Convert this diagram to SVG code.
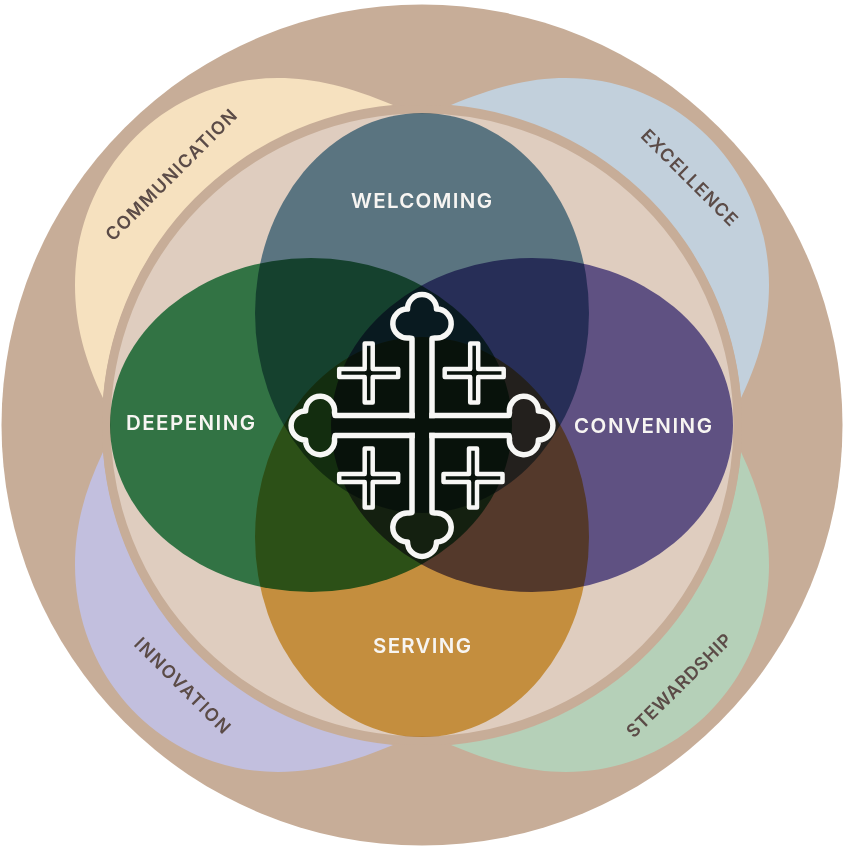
<svg xmlns="http://www.w3.org/2000/svg" xmlns:xlink="http://www.w3.org/1999/xlink" width="843" height="846" viewBox="0 0 843 846">
<style>
.lobe{mix-blend-mode:multiply}
.t{font-family:"Inter","Liberation Sans",sans-serif;text-anchor:middle}
.w{fill:#f7f5f2;font-size:20.500px;font-weight:600}
.d{fill:#5b4b47;font-size:18px;font-weight:600}
.x{fill:none;stroke:#f7f7f5;stroke-linejoin:round}
</style>
<defs>
<path id="arm" d="M-10,-10V-87L-13,-87.500A14.500,14.500 0 1 1 -14.500,-116.400A14.500,14.500 0 1 1 14.500,-116.400A14.500,14.500 0 1 1 13,-87.500L10,-87V-10"/>
<path id="small" d="M-4,-29.500H4V-4H29.500V4H4V29.500H-4V4H-29.500V-4H-4Z"/>
<path id="crescent" d="M-29,-320C-72,-338 -107,-347 -144,-347C-257,-347 -347,-255 -347,-140C-347,-100 -337,-65 -319,-27A320,320 0 0 1 -29,-320Z"/>
</defs>
<rect width="843" height="846" fill="#fff"/>
<circle id="outer" cx="422" cy="425" r="420.500" fill="#c7ad98"/>
<g id="communication">
<use xlink:href="#crescent" transform="translate(422 425)" fill="#f6e1bf"/>
<text class="t d" transform="translate(175.700 179.400) rotate(-45)" textLength="177" lengthAdjust="spacing">COMMUNICATION</text>
</g>
<g id="excellence">
<use xlink:href="#crescent" transform="translate(422 425) scale(-1 1)" fill="#c2d0dc"/>
<text class="t d" transform="translate(685 182) rotate(45)" textLength="128" lengthAdjust="spacing">EXCELLENCE</text>
</g>
<g id="innovation">
<use xlink:href="#crescent" transform="translate(422 425) scale(1 -1)" fill="#c2bfde"/>
<text class="t d" transform="translate(178 690) rotate(45)" textLength="127" lengthAdjust="spacing">INNOVATION</text>
</g>
<g id="stewardship">
<use xlink:href="#crescent" transform="translate(422 425) scale(-1 -1)" fill="#b5d0b8"/>
<text class="t d" transform="translate(683.400 690) rotate(-44.500)" textLength="139" lengthAdjust="spacing">STEWARDSHIP</text>
</g>
<circle id="disc" cx="422" cy="425" r="315.700" fill="#dfcdbf" stroke="#c7ad98" stroke-width="8.600"/>
<g id="welcoming-shape"><ellipse class="lobe" cx="422" cy="313" rx="167" ry="200" fill="#6790ab"/></g>
<g id="deepening-shape"><ellipse class="lobe" cx="311" cy="425" rx="201" ry="167" fill="#398f5b"/></g>
<g id="convening-shape"><ellipse class="lobe" cx="532" cy="425" rx="201" ry="167" fill="#6d64ae"/></g>
<g id="serving-shape"><ellipse class="lobe" cx="422" cy="537" rx="167" ry="200" fill="#e1b153"/></g>
<g id="emblem" class="x">
<g stroke-width="5.500" stroke-linecap="square" transform="translate(422 425.500)">
<use xlink:href="#arm"/>
<use xlink:href="#arm" transform="rotate(90)"/>
<use xlink:href="#arm" transform="rotate(180)"/>
<use xlink:href="#arm" transform="rotate(270)"/>
</g>
<g stroke-width="4.500">
<use xlink:href="#small" x="368.700" y="373"/>
<use xlink:href="#small" x="474.200" y="373"/>
<use xlink:href="#small" x="368.700" y="478"/>
<use xlink:href="#small" x="473" y="478"/>
</g>
</g>
<g id="welcoming"><text class="t w" x="421.500" y="208" textLength="141" lengthAdjust="spacing">WELCOMING</text></g>
<g id="deepening"><text class="t w" x="190.500" y="430" textLength="129" lengthAdjust="spacing">DEEPENING</text></g>
<g id="convening"><text class="t w" x="643" y="433" textLength="138" lengthAdjust="spacing">CONVENING</text></g>
<g id="serving"><text class="t w" x="422" y="653" textLength="98" lengthAdjust="spacing">SERVING</text></g>
</svg>
